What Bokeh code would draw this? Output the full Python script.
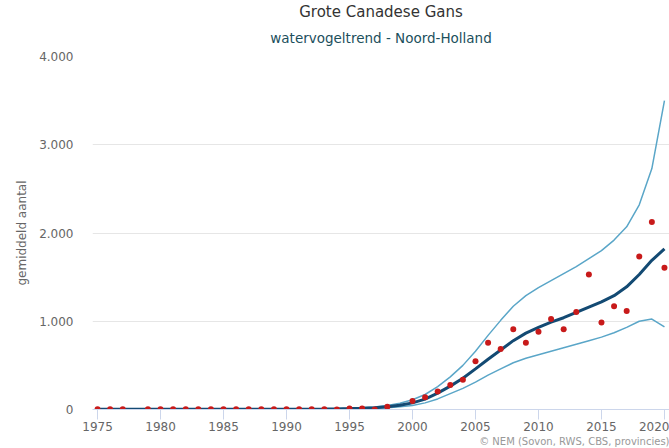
from bokeh.plotting import figure
from bokeh.models import Title, FixedTicker, Range1d
from bokeh.embed import file_html
from bokeh.resources import INLINE

# ---- data ----
years = list(range(1975, 2021))
trend = [2, 2, 2, 2, 2, 2, 2, 2, 2, 2,
         2, 2, 2, 2, 2, 3, 3, 4, 5, 7,
         10, 14, 20, 30, 48, 75, 118, 185, 265, 355,
         460, 570, 675, 780, 865, 930, 990, 1040, 1100, 1160,
         1220, 1290, 1390, 1530, 1690, 1820]
upper = [4, 4, 4, 4, 4, 4, 4, 4, 4, 4,
         4, 4, 4, 4, 5, 5, 6, 7, 8, 11,
         15, 20, 28, 45, 70, 110, 170, 260, 370, 500,
         660, 840, 1010, 1170, 1290, 1380, 1460, 1540, 1620, 1710,
         1800, 1920, 2070, 2320, 2730, 3500]
lower = [0, 0, 0, 0, 0, 0, 0, 0, 0, 0,
         0, 0, 0, 0, 1, 1, 1, 2, 3, 4,
         6, 9, 13, 19, 30, 45, 75, 120, 180, 240,
         310, 390, 460, 530, 580, 620, 660, 700, 740, 780,
         820, 870, 930, 1000, 1025, 935]

obs_years = [1975, 1976, 1977, 1979, 1980, 1981, 1982, 1983, 1984, 1985,
             1986, 1987, 1988, 1989, 1990, 1991, 1992, 1993, 1994, 1995,
             1996, 1997, 1998, 2000, 2001, 2002, 2003, 2004, 2005, 2006,
             2007, 2008, 2009, 2010, 2011, 2012, 2013, 2014, 2015, 2016,
             2017, 2018, 2019, 2020]
obs_vals = [2, 2, 2, 2, 2, 2, 2, 2, 2, 2,
            2, 2, 2, 2, 2, 2, 2, 2, 1, 10,
            10, 0, 32, 95, 138, 205, 278, 338, 547, 755,
            686, 909, 755, 880, 1025, 910, 1105, 1530, 985, 1170,
            1115, 1735, 2125, 1605]

x_ticks = [1975, 1980, 1985, 1990, 1995, 2000, 2005, 2010, 2015, 2020]
y_ticks = [0, 1000, 2000, 3000, 4000]
y_tick_labels = ["0", "1.000", "2.000", "3.000", "4.000"]

title_text = "Grote Canadese Gans"
subtitle_text = "watervogeltrend - Noord-Holland"
y_label = "gemiddeld aantal"
credit_text = "\u00a9 NEM (Sovon, RWS, CBS, provincies)"

FONT = "DejaVu Sans"

p = figure(width=669, height=448, output_backend="svg", toolbar_location=None,
           x_range=Range1d(1974.6, 2020.4), y_range=Range1d(0, 4000),
           min_border_left=92, min_border_right=0, min_border_top=56,
           min_border_bottom=39, title=title_text)
p.outline_line_color = None

p.title.align = "center"
p.title.text_font = FONT
p.title.text_font_size = "15px"
p.title.text_font_style = "normal"
p.title.text_color = "#333333"
p.title.standoff = -6
p.add_layout(Title(text=subtitle_text, align="center", text_font=FONT,
                   text_font_size="13.5px", text_font_style="normal",
                   text_color="#1c4f5c", standoff=21), "above")

# CI lines
p.line(years, upper, line_color="#5aa6c8", line_width=1.5)
p.line(years, lower, line_color="#5aa6c8", line_width=1.5)
# trend
p.line(years, trend, line_color="#134a73", line_width=3)
# observations
p.scatter(obs_years, obs_vals, size=6, fill_color="#c81a1a", line_color=None)

# axes
p.xaxis.ticker = FixedTicker(ticks=x_ticks)
p.xaxis.minor_tick_line_color = None
p.xaxis.major_tick_out = 10
p.xaxis.major_tick_in = 0
p.xaxis.major_tick_line_color = "#ccd6eb"
p.xaxis.axis_line_color = "#ccd6eb"
p.xaxis.major_label_standoff = 2
p.xaxis.major_label_text_font = FONT
p.xaxis.major_label_text_font_size = "12px"
p.xaxis.major_label_text_color = "#666666"

p.yaxis.ticker = FixedTicker(ticks=y_ticks)
p.yaxis.major_label_overrides = {t: l for t, l in zip(y_ticks, y_tick_labels)}
p.yaxis.axis_line_color = None
p.yaxis.major_tick_line_color = None
p.yaxis.minor_tick_line_color = None
p.yaxis.major_label_standoff = 13
p.yaxis.major_label_text_font = FONT
p.yaxis.major_label_text_font_size = "12px"
p.yaxis.major_label_text_color = "#666666"
p.yaxis.axis_label = y_label
p.yaxis.axis_label_text_font = FONT
p.yaxis.axis_label_text_font_size = "12px"
p.yaxis.axis_label_text_font_style = "normal"
p.yaxis.axis_label_text_color = "#666666"
p.yaxis.axis_label_standoff = 7

p.xgrid.grid_line_color = None
p.ygrid.grid_line_color = "#e6e6e6"
p.ygrid.grid_line_width = 1

p.add_layout(Title(text=credit_text, align="right", text_font=FONT,
                   text_font_size="10px", text_font_style="normal",
                   text_color="#999999", standoff=0), "below")

open("out.html", "w").write(file_html(p, INLINE))
